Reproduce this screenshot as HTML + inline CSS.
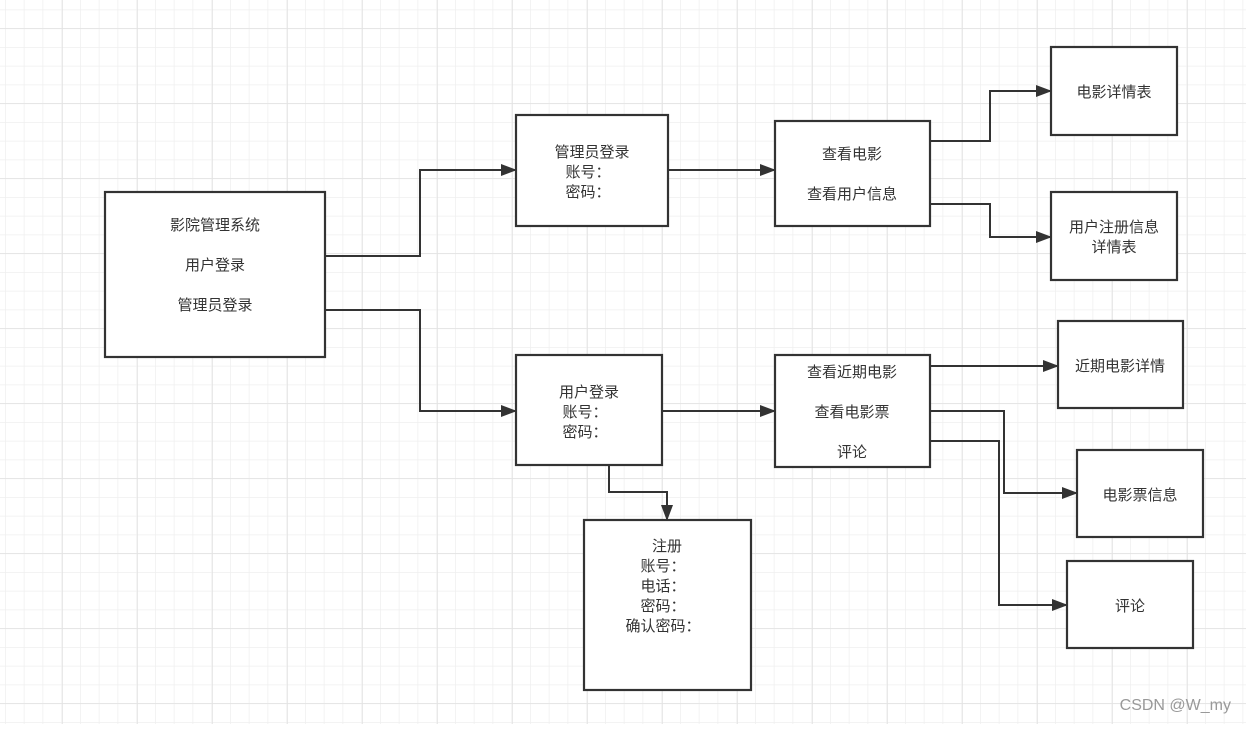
<!DOCTYPE html>
<html><head><meta charset="utf-8"><style>
body{margin:0;width:1246px;height:724px;overflow:hidden;background:#fff;font-family:"Liberation Sans","Noto Sans CJK SC",sans-serif;}
</style></head><body>
<svg width="1246" height="724" xmlns="http://www.w3.org/2000/svg" font-family="Liberation Sans, Noto Sans CJK SC, sans-serif" font-size="15" fill="#333">
<defs>
<pattern id="g" width="18.75" height="18.75" patternUnits="userSpaceOnUse" x="5" y="9.5"><path d="M0 0H18.75M0 0V18.75" stroke="#efefef" stroke-width="1.5" fill="none"/></pattern>
<pattern id="G" width="75" height="75" patternUnits="userSpaceOnUse" x="62" y="28"><path d="M0 0H75M0 0V75" stroke="#e2e2e2" stroke-width="1.5" fill="none"/></pattern>
<marker id="a" markerWidth="10" markerHeight="10" refX="9" refY="5" orient="auto" markerUnits="userSpaceOnUse"><path d="M0 0L14 5L0 10z" fill="#333" transform="scale(0.7 1)"/></marker>
<marker id="b" markerWidth="16" markerHeight="12" refX="15" refY="6" orient="auto" markerUnits="userSpaceOnUse"><path d="M0 0L16 6L0 12z" fill="#333"/></marker>
</defs>
<rect width="1246" height="724" fill="url(#g)"/>
<rect width="1246" height="724" fill="url(#G)"/>
<g fill="#fff" stroke="#333" stroke-width="2.2">
<rect x="105" y="192" width="220" height="165"/>
<rect x="516" y="115" width="152" height="111"/>
<rect x="775" y="121" width="155" height="105"/>
<rect x="1051" y="47" width="126" height="88"/>
<rect x="1051" y="192" width="126" height="88"/>
<rect x="516" y="355" width="146" height="110"/>
<rect x="775" y="355" width="155" height="112"/>
<rect x="1058" y="321" width="125" height="87"/>
<rect x="1077" y="450" width="126" height="87"/>
<rect x="1067" y="561" width="126" height="87"/>
<rect x="584" y="520" width="167" height="170"/>
</g>
<g fill="none" stroke="#333" stroke-width="2" marker-end="url(#b)">
<path d="M325 256H420V170H516"/>
<path d="M325 310H420V411H516"/>
<path d="M668 170H775"/>
<path d="M930 141H990V91H1051"/>
<path d="M930 204H990V237H1051"/>
<path d="M662 411H775"/>
<path d="M930 366H1058"/>
<path d="M930 411H1004V493H1077"/>
<path d="M930 441H999V605H1067"/>
<path d="M609 465V492H667V520"/>
</g>
<g text-anchor="middle">
<text x="215" y="230">影院管理系统</text>
<text x="215" y="270">用户登录</text>
<text x="215" y="310">管理员登录</text>
<text x="592" y="157">管理员登录</text>
<text x="588" y="177">账号：</text>
<text x="588" y="197">密码：</text>
<text x="852" y="159">查看电影</text>
<text x="852" y="199">查看用户信息</text>
<text x="1114" y="97">电影详情表</text>
<text x="1114" y="232">用户注册信息</text>
<text x="1114" y="252">详情表</text>
<text x="589" y="397">用户登录</text>
<text x="585" y="417">账号：</text>
<text x="585" y="437">密码：</text>
<text x="852" y="377">查看近期电影</text>
<text x="852" y="417">查看电影票</text>
<text x="852" y="457">评论</text>
<text x="1120" y="371">近期电影详情</text>
<text x="1140" y="500">电影票信息</text>
<text x="1130" y="611">评论</text>
<text x="667" y="551">注册</text>
<text x="663" y="571">账号：</text>
<text x="663" y="591">电话：</text>
<text x="663" y="611">密码：</text>
<text x="663" y="631">确认密码：</text>
</g>
<text x="1231" y="710" text-anchor="end" font-size="16" fill="#999">CSDN @W_my</text>
</svg>
</body></html>
